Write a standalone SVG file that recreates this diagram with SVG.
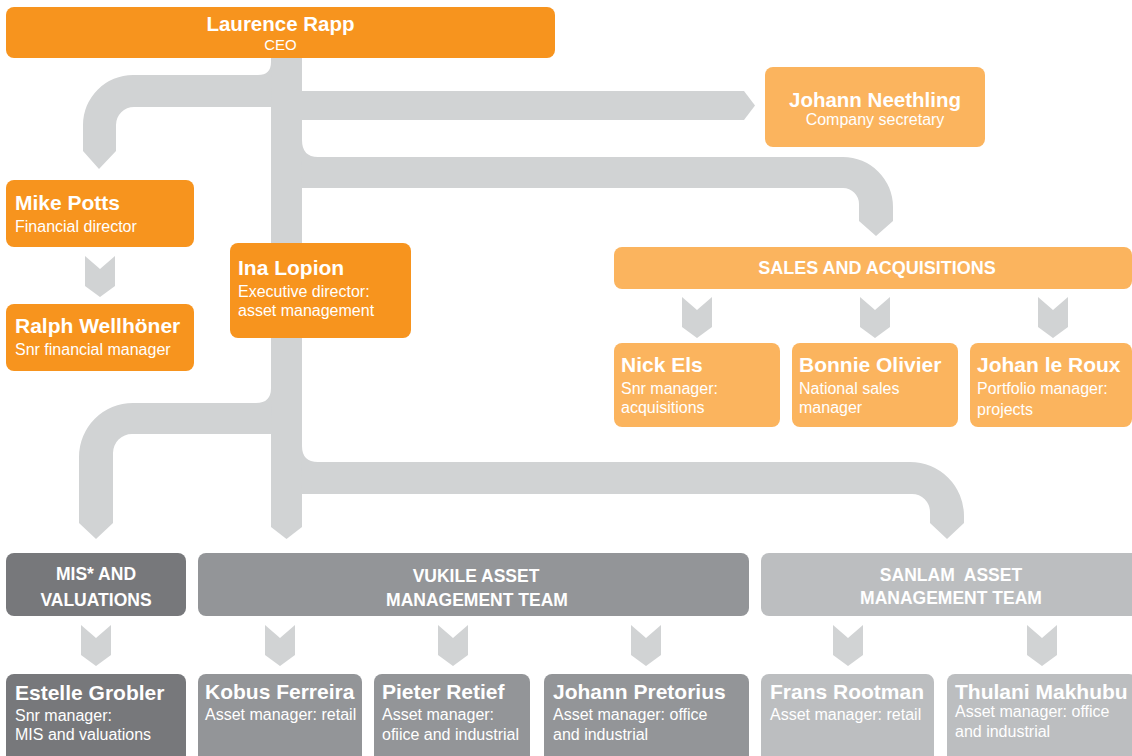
<svg xmlns="http://www.w3.org/2000/svg" xmlns:xlink="http://www.w3.org/1999/xlink" width="1132" height="756" viewBox="0 0 1132 756">
<style>
  .conn { fill: #D1D3D4; }
  .o1 { fill: #F7941E; }
  .o2 { fill: #FBB45E; }
  .g1 { fill: #77787B; }
  .g2 { fill: #939598; }
  .g3 { fill: #BCBEC0; }
  text { font-family: "Liberation Sans", Arial, Helvetica, sans-serif; fill: #FFFFFF; }
  .nm { font-size: 21px; font-weight: bold; }
  .sb { font-size: 16px; }
  .hd { font-size: 17.5px; font-weight: bold; text-anchor: middle; }
  .c { text-anchor: middle; }
</style>
<defs>
  <polygon id="chev" points="-15,0 0,13 15,0 15,30 0,41 -15,30"/>
</defs>
<rect width="1132" height="756" fill="#FFFFFF"/>
<g id="connectors" class="conn">
  <path d="M271,58 H302 V527 L286.5,539 L271,527 Z"/>
  <path d="M271,58 V62 Q271,75 258,75 H133 A50 50 0 0 0 83 125 V151 L99,169 L116,151 V125 A18 18 0 0 1 134 107 H272 Z"/>
  <path d="M301,91 H744 L755,105.5 L744,120 H301 Z"/>
  <path d="M302,140 Q302,157 318,157 H843 A50 50 0 0 1 893 207 V221 L876,236 L859,221 V204 A16 16 0 0 0 843 188 H301 Z"/>
  <path d="M271,388 Q271,403 256,403 H133 A54 54 0 0 0 79 457 V523 L96,539 L113,523 V453 A19 19 0 0 1 132 434 H272 Z"/>
  <path d="M302,446 Q302,462 318,462 H910 A54 54 0 0 1 964 516 V523 L947,539 L930,523 V512 A18 18 0 0 0 912 494 H301 Z"/>
  <use xlink:href="#chev" x="100" y="256"/>
  <use xlink:href="#chev" x="697" y="297"/>
  <use xlink:href="#chev" x="875" y="297"/>
  <use xlink:href="#chev" x="1053" y="297"/>
  <use xlink:href="#chev" x="96" y="625"/>
  <use xlink:href="#chev" x="280" y="625"/>
  <use xlink:href="#chev" x="453" y="625"/>
  <use xlink:href="#chev" x="646" y="625"/>
  <use xlink:href="#chev" x="848" y="625"/>
  <use xlink:href="#chev" x="1042" y="625"/>
</g>
<g id="ceo">
  <rect class="o1" x="6" y="7" width="549" height="51" rx="8"/>
  <text class="c" x="280.5" y="31" style="font-size:20.5px;font-weight:bold">Laurence Rapp</text>
  <text class="c" x="280.5" y="50" style="font-size:15px">CEO</text>
</g>
<g id="neethling">
  <rect class="o2" x="765" y="67" width="220" height="80" rx="8"/>
  <text class="c nm" x="875" y="107" style="font-size:20.5px">Johann Neethling</text>
  <text class="c sb" x="875" y="125">Company secretary</text>
</g>
<g id="potts">
  <rect class="o1" x="6" y="180" width="188" height="67" rx="8"/>
  <text class="nm" x="15" y="210">Mike Potts</text>
  <text class="sb" x="15" y="232">Financial director</text>
</g>
<g id="wellhoner">
  <rect class="o1" x="6" y="304" width="188" height="67" rx="8"/>
  <text class="nm" x="15" y="333">Ralph Wellhöner</text>
  <text class="sb" x="15" y="355">Snr financial manager</text>
</g>
<g id="lopion">
  <rect class="o1" x="230" y="243" width="181" height="95" rx="8"/>
  <text class="nm" x="238" y="275">Ina Lopion</text>
  <text class="sb" x="238" y="297">Executive director:</text>
  <text class="sb" x="238" y="316">asset management</text>
</g>
<g id="sales">
  <rect class="o2" x="614" y="247" width="518" height="42" rx="8"/>
  <text class="hd" x="877" y="274" style="font-size:18px">SALES AND ACQUISITIONS</text>
</g>
<g id="els">
  <rect class="o2" x="614" y="343" width="166" height="84" rx="8"/>
  <text class="nm" x="621" y="372">Nick Els</text>
  <text class="sb" x="621" y="394">Snr manager:</text>
  <text class="sb" x="621" y="413">acquisitions</text>
</g>
<g id="olivier">
  <rect class="o2" x="792" y="343" width="166" height="84" rx="8"/>
  <text class="nm" x="799" y="372">Bonnie Olivier</text>
  <text class="sb" x="799" y="394">National sales</text>
  <text class="sb" x="799" y="413">manager</text>
</g>
<g id="leroux">
  <rect class="o2" x="970" y="343" width="162" height="84" rx="8"/>
  <text class="nm" x="977" y="372">Johan le Roux</text>
  <text class="sb" x="977" y="394">Portfolio manager:</text>
  <text class="sb" x="977" y="415">projects</text>
</g>
<g id="mis">
  <rect class="g1" x="6" y="553" width="180" height="63" rx="8"/>
  <text class="hd" x="96" y="580">MIS* AND</text>
  <text class="hd" x="96" y="606">VALUATIONS</text>
</g>
<g id="vukile">
  <rect class="g2" x="198" y="553" width="551" height="63" rx="8"/>
  <text class="hd" x="476" y="582">VUKILE ASSET</text>
  <text class="hd" x="477" y="606">MANAGEMENT TEAM</text>
</g>
<g id="sanlam">
  <rect class="g3" x="761" y="553" width="380" height="63" rx="8"/>
  <text class="hd" x="951" y="581" xml:space="preserve">SANLAM  ASSET</text>
  <text class="hd" x="951" y="604">MANAGEMENT TEAM</text>
</g>
<g id="grobler">
  <rect class="g1" x="6" y="674" width="180" height="100" rx="8"/>
  <text class="nm" x="15" y="700">Estelle Grobler</text>
  <text class="sb" x="15" y="721">Snr manager:</text>
  <text class="sb" x="15" y="740">MIS and valuations</text>
</g>
<g id="ferreira">
  <rect class="g2" x="198" y="674" width="164" height="100" rx="8"/>
  <text class="nm" x="205" y="699">Kobus Ferreira</text>
  <text class="sb" x="205" y="720">Asset manager: retail</text>
</g>
<g id="retief">
  <rect class="g2" x="374" y="674" width="156" height="100" rx="8"/>
  <text class="nm" x="382" y="699">Pieter Retief</text>
  <text class="sb" x="382" y="720">Asset manager:</text>
  <text class="sb" x="382" y="740">ofiice and industrial</text>
</g>
<g id="pretorius">
  <rect class="g2" x="544" y="674" width="205" height="100" rx="8"/>
  <text class="nm" x="553" y="699">Johann Pretorius</text>
  <text class="sb" x="553" y="720">Asset manager: office</text>
  <text class="sb" x="553" y="740">and industrial</text>
</g>
<g id="rootman">
  <rect class="g3" x="761" y="674" width="173" height="100" rx="8"/>
  <text class="nm" x="770" y="699">Frans Rootman</text>
  <text class="sb" x="770" y="720">Asset manager: retail</text>
</g>
<g id="makhubu">
  <rect class="g3" x="947" y="674" width="190" height="100" rx="8"/>
  <text class="nm" x="955" y="699">Thulani Makhubu</text>
  <text class="sb" x="955" y="717">Asset manager: office</text>
  <text class="sb" x="955" y="737">and industrial</text>
</g>
</svg>
